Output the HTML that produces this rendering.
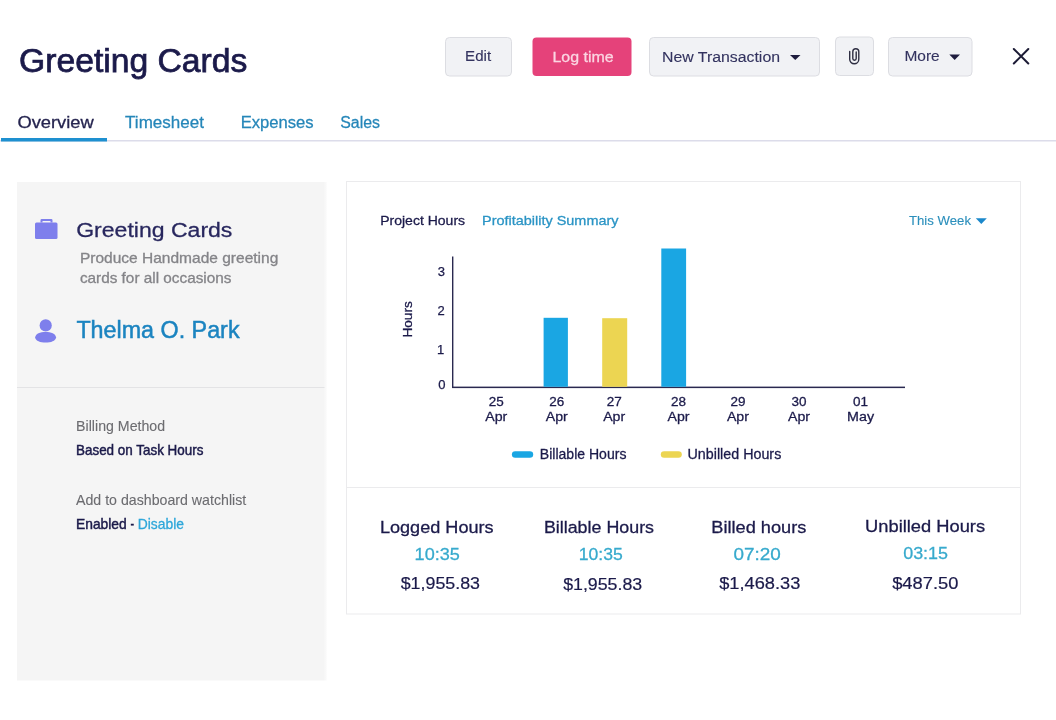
<!DOCTYPE html>
<html><head><meta charset="utf-8"><title>Greeting Cards</title>
<style>
html,body{margin:0;padding:0;background:#fff;}
body{width:1056px;height:720px;overflow:hidden;}
svg{display:block;will-change:transform;font-family:"Liberation Sans",Arial,sans-serif;}
</style></head><body>
<svg width="1056" height="720" viewBox="0 0 1056 720">
<defs><linearGradient id="pshadow" x1="0" x2="1" y1="0" y2="0"><stop offset="0" stop-color="#f5f5f5"/><stop offset="1" stop-color="#ffffff"/></linearGradient></defs>
<text x="19.00" y="72.20" font-size="33.18" fill="#1b1a4a" stroke="#1b1a4a" stroke-width="0.75" textLength="228.39" lengthAdjust="spacingAndGlyphs">Greeting Cards</text>
<rect x="445.5" y="37.5" width="66" height="38.5" fill="#f1f2f5" rx="4" stroke="#dcdde2" stroke-width="1"/>
<text x="465.10" y="61.30" font-size="15.26" fill="#33335f" stroke="#33335f" stroke-width="0.12" textLength="26.00" lengthAdjust="spacingAndGlyphs">Edit</text>
<rect x="532.5" y="37.5" width="99" height="38.5" fill="#e5427a" rx="4"/>
<text x="552.40" y="61.80" font-size="15.40" fill="#fbd5e2" stroke="#fbd5e2" stroke-width="0.28" textLength="61.21" lengthAdjust="spacingAndGlyphs">Log time</text>
<rect x="649.5" y="37.5" width="170" height="38.5" fill="#f1f2f5" rx="4" stroke="#dcdde2" stroke-width="1"/>
<text x="662.00" y="61.50" font-size="15.26" fill="#33335f" stroke="#33335f" stroke-width="0.12" textLength="118.00" lengthAdjust="spacingAndGlyphs">New Transaction</text>
<path d="M790 55 L800.5 55 L795.25 60 Z" fill="#1e1d3e"/>
<rect x="835.5" y="37" width="38" height="38.5" fill="#f1f2f5" rx="4" stroke="#dcdde2" stroke-width="1"/>
<path d="M849.7 51.5 V59.2 A4.55 4.55 0 0 0 858.8 59.2 V51.8 A3 3 0 0 0 852.8 51.8 V58.6 A1.7 1.7 0 0 0 856.2 58.6 V52" fill="none" stroke="#2e2e42" stroke-width="1.4" stroke-linecap="round"/>
<rect x="888.5" y="37.5" width="83.5" height="38.5" fill="#f1f2f5" rx="4" stroke="#dcdde2" stroke-width="1"/>
<text x="904.50" y="61.00" font-size="15.26" fill="#33335f" stroke="#33335f" stroke-width="0.12" textLength="35.21" lengthAdjust="spacingAndGlyphs">More</text>
<path d="M949.3 54.5 L960 54.5 L954.65 60 Z" fill="#1e1d3e"/>
<path d="M1013.8 49 L1028.3 63.5 M1028.3 49 L1013.8 63.5" stroke="#1c1b35" stroke-width="2" stroke-linecap="round"/>
<rect x="0" y="140" width="1056" height="1.5" fill="#dcdcea"/>
<rect x="1" y="138" width="106" height="3.5" fill="#1e90d0"/>
<text x="17.40" y="128.00" font-size="16.24" fill="#25244f" stroke="#25244f" stroke-width="0.28" textLength="76.35" lengthAdjust="spacingAndGlyphs">Overview</text>
<text x="125.10" y="128.30" font-size="16.24" fill="#2586b9" stroke="#2586b9" stroke-width="0.28" textLength="78.81" lengthAdjust="spacingAndGlyphs">Timesheet</text>
<text x="240.70" y="128.30" font-size="16.24" fill="#2586b9" stroke="#2586b9" stroke-width="0.28" textLength="72.99" lengthAdjust="spacingAndGlyphs">Expenses</text>
<text x="340.20" y="128.30" font-size="16.24" fill="#2586b9" stroke="#2586b9" stroke-width="0.28" textLength="39.81" lengthAdjust="spacingAndGlyphs">Sales</text>
<rect x="17" y="182" width="307.5" height="498.5" fill="#f5f5f5"/>
<rect x="324.5" y="182" width="3" height="498.5" fill="url(#pshadow)"/>
<rect x="17" y="387" width="307.5" height="1" fill="#e3e3e5"/>
<path d="M40.5 222.5 V220.2 Q40.5 219 41.7 219 H51.3 Q52.5 219 52.5 220.2 V222.5 H50.5 V221 H42.5 V222.5 Z" fill="#7e7fec"/>
<rect x="35" y="222.5" width="22.5" height="16.5" fill="#7e7fec" rx="1.5"/>
<text x="76.20" y="236.60" font-size="20.72" fill="#28275e" stroke="#28275e" stroke-width="0.28" textLength="156.20" lengthAdjust="spacingAndGlyphs">Greeting Cards</text>
<text x="79.90" y="262.70" font-size="13.72" fill="#848488" stroke="#848488" stroke-width="0.28" textLength="198.40" lengthAdjust="spacingAndGlyphs">Produce Handmade greeting</text>
<text x="79.90" y="283.40" font-size="13.72" fill="#848488" stroke="#848488" stroke-width="0.28" textLength="151.60" lengthAdjust="spacingAndGlyphs">cards for all occasions</text>
<circle cx="45.7" cy="325.4" r="6.1" fill="#7e7fec"/>
<path d="M35.1 337.4 C35.6 333.8 40 332 45.6 332 C51.2 332 55.6 333.8 56.1 337.4 C55.4 340.8 51 342.6 45.6 342.6 C40.2 342.6 35.8 340.8 35.1 337.4 Z" fill="#7e7fec"/>
<text x="76.40" y="338.20" font-size="24.08" fill="#1b84c0" stroke="#1b84c0" stroke-width="0.5" textLength="163.15" lengthAdjust="spacingAndGlyphs">Thelma O. Park</text>
<text x="76.10" y="430.80" font-size="13.72" fill="#6c6c70" stroke="#6c6c70" stroke-width="0.1" textLength="89.00" lengthAdjust="spacingAndGlyphs">Billing Method</text>
<text x="76.00" y="454.90" font-size="13.86" fill="#1b1a4a" stroke="#1b1a4a" stroke-width="0.45" textLength="127.40" lengthAdjust="spacingAndGlyphs">Based on Task Hours</text>
<text x="76.00" y="505.00" font-size="13.72" fill="#6c6c70" stroke="#6c6c70" stroke-width="0.1" textLength="170.21" lengthAdjust="spacingAndGlyphs">Add to dashboard watchlist</text>
<text x="76.00" y="529.30" font-size="13.86" fill="#1b1a4a" stroke="#1b1a4a" stroke-width="0.45" textLength="50.70" lengthAdjust="spacingAndGlyphs">Enabled</text>
<text x="130.60" y="529.30" font-size="14.50" fill="#1b1a4a" stroke="#1b1a4a" stroke-width="0.45" textLength="3.60" lengthAdjust="spacingAndGlyphs">-</text>
<text x="137.70" y="529.30" font-size="13.86" fill="#2ea7da" stroke="#2ea7da" stroke-width="0.28" textLength="46.30" lengthAdjust="spacingAndGlyphs">Disable</text>
<rect x="346.5" y="181.5" width="674" height="432.5" fill="#ffffff" stroke="#ebebed" stroke-width="1"/>
<rect x="347" y="487" width="673" height="1" fill="#ebebed"/>
<text x="380.20" y="225.10" font-size="13.16" fill="#1b1a4a" stroke="#1b1a4a" stroke-width="0.28" textLength="84.90" lengthAdjust="spacingAndGlyphs">Project Hours</text>
<text x="482.00" y="225.10" font-size="13.16" fill="#2a94c5" stroke="#2a94c5" stroke-width="0.28" textLength="136.50" lengthAdjust="spacingAndGlyphs">Profitability Summary</text>
<text x="909.00" y="225.10" font-size="13.16" fill="#2b8fbc" stroke="#2b8fbc" stroke-width="0.12" textLength="61.97" lengthAdjust="spacingAndGlyphs">This Week</text>
<path d="M975.8 218.2 L986.8 218.2 L981.3 224 Z" fill="#1b88cb"/>
<rect x="452" y="256.5" width="1.4" height="131.5" fill="#2a2950"/>
<rect x="452" y="386.6" width="453" height="1.5" fill="#2a2950"/>
<rect x="543.6" y="317.8" width="24.3" height="69" fill="#1aa6e3"/>
<rect x="602.2" y="318.2" width="25" height="68.6" fill="#ecd552"/>
<rect x="661.3" y="248.5" width="24.8" height="138.3" fill="#1aa6e3"/>
<text x="437.73" y="275.80" font-size="13.02" fill="#1b1a4a" stroke="#1b1a4a" stroke-width="0.25" textLength="7.24" lengthAdjust="spacingAndGlyphs">3</text>
<text x="437.38" y="315.00" font-size="13.02" fill="#1b1a4a" stroke="#1b1a4a" stroke-width="0.25" textLength="7.24" lengthAdjust="spacingAndGlyphs">2</text>
<text x="436.98" y="353.75" font-size="13.02" fill="#1b1a4a" stroke="#1b1a4a" stroke-width="0.25" textLength="7.24" lengthAdjust="spacingAndGlyphs">1</text>
<text x="438.33" y="388.75" font-size="13.02" fill="#1b1a4a" stroke="#1b1a4a" stroke-width="0.25" textLength="7.24" lengthAdjust="spacingAndGlyphs">0</text>
<g transform="translate(412.4,337.6) rotate(-90)">
<text x="0.00" y="0.00" font-size="12.88" fill="#1b1a4a" stroke="#1b1a4a" stroke-width="0.28" textLength="36.39" lengthAdjust="spacingAndGlyphs">Hours</text>
</g>
<text x="488.80" y="405.70" font-size="12.32" fill="#1b1a4a" stroke="#1b1a4a" stroke-width="0.28" textLength="15.00" lengthAdjust="spacingAndGlyphs">25</text>
<text x="485.30" y="420.70" font-size="12.88" fill="#1b1a4a" stroke="#1b1a4a" stroke-width="0.28" textLength="22.00" lengthAdjust="spacingAndGlyphs">Apr</text>
<text x="549.30" y="405.70" font-size="12.32" fill="#1b1a4a" stroke="#1b1a4a" stroke-width="0.28" textLength="15.00" lengthAdjust="spacingAndGlyphs">26</text>
<text x="545.80" y="420.70" font-size="12.88" fill="#1b1a4a" stroke="#1b1a4a" stroke-width="0.28" textLength="22.00" lengthAdjust="spacingAndGlyphs">Apr</text>
<text x="606.70" y="405.70" font-size="12.32" fill="#1b1a4a" stroke="#1b1a4a" stroke-width="0.28" textLength="15.00" lengthAdjust="spacingAndGlyphs">27</text>
<text x="603.20" y="420.70" font-size="12.88" fill="#1b1a4a" stroke="#1b1a4a" stroke-width="0.28" textLength="22.00" lengthAdjust="spacingAndGlyphs">Apr</text>
<text x="671.00" y="405.70" font-size="12.32" fill="#1b1a4a" stroke="#1b1a4a" stroke-width="0.28" textLength="15.00" lengthAdjust="spacingAndGlyphs">28</text>
<text x="667.50" y="420.70" font-size="12.88" fill="#1b1a4a" stroke="#1b1a4a" stroke-width="0.28" textLength="22.00" lengthAdjust="spacingAndGlyphs">Apr</text>
<text x="730.40" y="405.70" font-size="12.32" fill="#1b1a4a" stroke="#1b1a4a" stroke-width="0.28" textLength="15.00" lengthAdjust="spacingAndGlyphs">29</text>
<text x="726.90" y="420.70" font-size="12.88" fill="#1b1a4a" stroke="#1b1a4a" stroke-width="0.28" textLength="22.00" lengthAdjust="spacingAndGlyphs">Apr</text>
<text x="791.50" y="405.70" font-size="12.32" fill="#1b1a4a" stroke="#1b1a4a" stroke-width="0.28" textLength="15.00" lengthAdjust="spacingAndGlyphs">30</text>
<text x="788.00" y="420.70" font-size="12.88" fill="#1b1a4a" stroke="#1b1a4a" stroke-width="0.28" textLength="22.00" lengthAdjust="spacingAndGlyphs">Apr</text>
<text x="853.10" y="405.70" font-size="12.32" fill="#1b1a4a" stroke="#1b1a4a" stroke-width="0.28" textLength="15.00" lengthAdjust="spacingAndGlyphs">01</text>
<text x="847.10" y="420.70" font-size="12.88" fill="#1b1a4a" stroke="#1b1a4a" stroke-width="0.28" textLength="27.00" lengthAdjust="spacingAndGlyphs">May</text>
<rect x="511.9" y="451.2" width="21.3" height="6.6" fill="#1aa6e3" rx="3.3"/>
<text x="539.80" y="458.60" font-size="14.28" fill="#1b1a4a" stroke="#1b1a4a" stroke-width="0.28" textLength="86.61" lengthAdjust="spacingAndGlyphs">Billable Hours</text>
<rect x="660.8" y="451.2" width="21" height="6.6" fill="#ecd552" rx="3.3"/>
<text x="687.50" y="458.60" font-size="14.28" fill="#1b1a4a" stroke="#1b1a4a" stroke-width="0.28" textLength="93.79" lengthAdjust="spacingAndGlyphs">Unbilled Hours</text>
<text x="379.90" y="533.40" font-size="16.66" fill="#1b1a4a" stroke="#1b1a4a" stroke-width="0.28" textLength="113.70" lengthAdjust="spacingAndGlyphs">Logged Hours</text>
<text x="414.60" y="559.50" font-size="16.66" fill="#37aacd" stroke="#37aacd" stroke-width="0.28" textLength="45.21" lengthAdjust="spacingAndGlyphs">10:35</text>
<text x="400.70" y="589.40" font-size="16.80" fill="#1b1a4a" stroke="#1b1a4a" stroke-width="0.2" textLength="79.30" lengthAdjust="spacingAndGlyphs">$1,955.83</text>
<text x="543.90" y="533.40" font-size="16.66" fill="#1b1a4a" stroke="#1b1a4a" stroke-width="0.28" textLength="110.11" lengthAdjust="spacingAndGlyphs">Billable Hours</text>
<text x="578.80" y="559.80" font-size="16.66" fill="#37aacd" stroke="#37aacd" stroke-width="0.28" textLength="44.01" lengthAdjust="spacingAndGlyphs">10:35</text>
<text x="563.20" y="590.20" font-size="16.80" fill="#1b1a4a" stroke="#1b1a4a" stroke-width="0.2" textLength="79.00" lengthAdjust="spacingAndGlyphs">$1,955.83</text>
<text x="711.30" y="533.40" font-size="16.66" fill="#1b1a4a" stroke="#1b1a4a" stroke-width="0.28" textLength="95.10" lengthAdjust="spacingAndGlyphs">Billed hours</text>
<text x="733.40" y="560.10" font-size="16.66" fill="#37aacd" stroke="#37aacd" stroke-width="0.28" textLength="47.31" lengthAdjust="spacingAndGlyphs">07:20</text>
<text x="719.20" y="588.60" font-size="16.80" fill="#1b1a4a" stroke="#1b1a4a" stroke-width="0.2" textLength="81.10" lengthAdjust="spacingAndGlyphs">$1,468.33</text>
<text x="865.10" y="532.30" font-size="16.66" fill="#1b1a4a" stroke="#1b1a4a" stroke-width="0.28" textLength="119.99" lengthAdjust="spacingAndGlyphs">Unbilled Hours</text>
<text x="903.20" y="559.00" font-size="16.66" fill="#37aacd" stroke="#37aacd" stroke-width="0.28" textLength="44.81" lengthAdjust="spacingAndGlyphs">03:15</text>
<text x="892.20" y="588.60" font-size="16.80" fill="#1b1a4a" stroke="#1b1a4a" stroke-width="0.2" textLength="66.20" lengthAdjust="spacingAndGlyphs">$487.50</text>
</svg>
</body></html>
